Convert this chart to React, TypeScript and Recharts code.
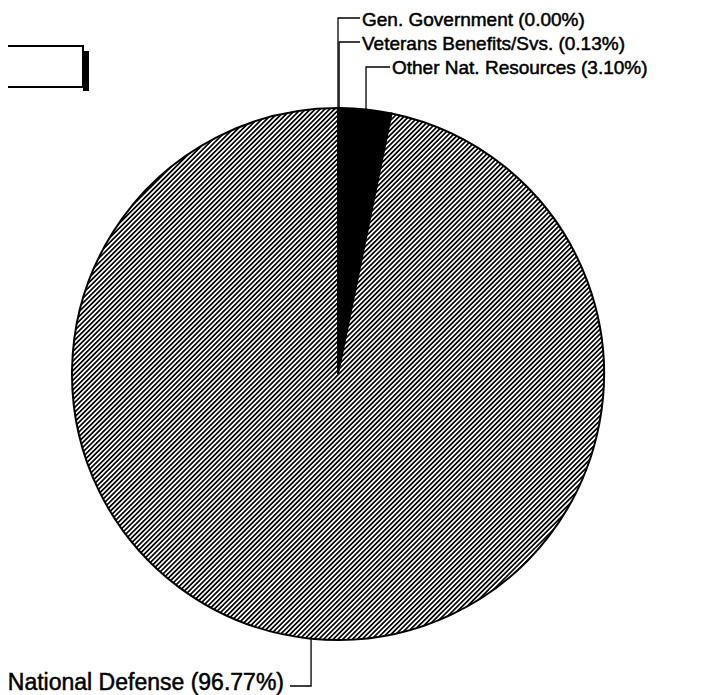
import React from 'react';
import { PieChart, Pie, Cell } from 'recharts';

const categories = ['Gen. Government', 'Veterans Benefits/Svs.', 'Other Nat. Resources', 'National Defense'];
const shares = [0.0, 0.13, 3.1, 96.77];
const shareLabels = ['0.00%', '0.13%', '3.10%', '96.77%'];

const data = categories.map((name, i) => ({ name, value: shares[i], pct: shareLabels[i] }));

const FILLS = ['url(#hatch)', 'url(#hatch)', '#000', 'url(#hatch)'];

// layout for each label: elbow y, line end x, text x, text baseline, anchor, font
const LABEL_LAYOUT = [
  { elbowY: 18, endX: 360, tx: 362, ty: 26, anchor: 'start', size: 19, weight: 400 },
  { elbowY: 42, endX: 360, tx: 362, ty: 50, anchor: 'start', size: 19, weight: 400 },
  { elbowY: 67, endX: 390, tx: 392, ty: 74, anchor: 'start', size: 19, weight: 400 },
  { elbowY: 686, endX: 290, tx: 284, ty: 690, anchor: 'end', size: 23, weight: 400 },
];

const RAD = Math.PI / 180;

const renderLabel = (props: any) => {
  const { cx, cy, midAngle, outerRadius, index } = props;
  const L = LABEL_LAYOUT[index];
  if (!L) return null;
  const ax = cx + outerRadius * Math.cos(-midAngle * RAD);
  const ay = cy + outerRadius * Math.sin(-midAngle * RAD);
  const d = data[index];
  return (
    <g key={`lbl-${index}`}>
      <polyline
        points={`${ax},${ay} ${ax},${L.elbowY} ${L.endX},${L.elbowY}`}
        fill="none"
        stroke="#000"
        strokeWidth={1.3}
      />
      <text
        x={L.tx}
        y={L.ty}
        textAnchor={L.anchor as any}
        fontFamily="'Liberation Sans', Arial, sans-serif"
        fontSize={L.size}
        fontWeight={L.weight}
        fill="#000"
        stroke="#000"
        strokeWidth={0.5}
      >
        {`${d.name} (${d.pct})`}
      </text>
    </g>
  );
};

export default function App() {
  return (
    <div style={{ margin: '-8px 0 0 -8px', width: 704, height: 695, background: '#fff' }}>
      <PieChart width={704} height={695} margin={{ top: 0, right: 0, bottom: 0, left: 0 }}>
        <defs>
          <pattern id="hatch" patternUnits="userSpaceOnUse" width="3.4" height="3.4" patternTransform="rotate(45)">
            <rect x="0" y="0" width="3.4" height="3.4" fill="#fff" />
            <line x1="0.85" y1="0" x2="0.85" y2="3.4" stroke="#000" strokeWidth="1.7" />
          </pattern>
        </defs>
        <g>
          <rect x={-10} y={46} width={93} height={41} fill="#fff" stroke="#000" strokeWidth={2} />
          <rect x={83} y={51} width={6} height={40} fill="#000" />
          <text x={5} y={72} textAnchor="end" fontFamily="'Liberation Sans', Arial, sans-serif" fontSize={26} fill="#000" stroke="#000" strokeWidth={0.5}>
            E
          </text>
        </g>
        <Pie
          data={data}
          dataKey="value"
          nameKey="name"
          cx={338}
          cy={374}
          innerRadius={0}
          outerRadius={266}
          startAngle={90}
          endAngle={-270}
          stroke="#000"
          strokeWidth={2}
          labelLine={false}
          label={renderLabel}
          isAnimationActive={false}
        >
          {data.map((d, i) => (
            <Cell key={d.name} fill={FILLS[i]} />
          ))}
        </Pie>
      </PieChart>
    </div>
  );
}
